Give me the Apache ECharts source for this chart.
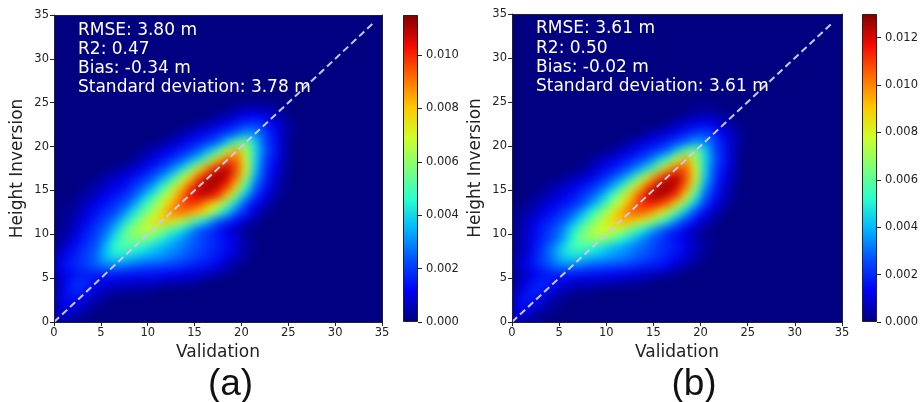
<!DOCTYPE html>
<html><head><meta charset="utf-8">
<script src="https://cdn.jsdelivr.net/npm/echarts@6/dist/echarts.min.js"></script>
<style>
html,body{margin:0;padding:0;background:#fff}
#wrap{position:relative;width:921px;height:402px;overflow:hidden}
.clip{position:absolute;overflow:hidden;background:#000080}
.heat{position:absolute;left:-16px;top:-16px;filter:blur(4px)}
#c{position:absolute;left:0;top:0;width:921px;height:402px}
</style>
</head><body>
<div id="wrap">
  <div class="clip" style="left:54px;top:15px;width:328px;height:307px"><div class="heat" id="hA" style="width:360px;height:339px"></div></div>
  <div class="clip" style="left:512px;top:14px;width:330px;height:308px"><div class="heat" id="hB" style="width:362px;height:340px"></div></div>
  <div id="c"></div>
</div>
<script>
// ---- data (density values in units of 1e-4; each row: [y cell, first x cell, values...]) ----
const densityRowsA = [
 [0,0,[6,6,3,1]],
 [1,0,[8,10,7,4,2]],
 [2,0,[8,13,12,8,4,2]],
 [3,0,[7,14,17,14,8,5,4,3,3,2,2]],
 [4,0,[6,13,18,17,13,10,9,8,8,7,7,6,5,4,3,2]],
 [5,0,[8,12,15,16,16,16,15,15,14,14,14,13,12,11,10,8,6,4,2]],
 [6,0,[10,15,18,21,25,29,30,28,26,24,23,22,21,19,17,15,14,10,6,3,1]],
 [7,0,[8,13,17,21,26,36,42,41,38,35,33,31,28,26,23,20,17,14,10,6,3]],
 [8,0,[4,10,15,20,24,35,46,51,49,44,39,35,32,28,25,22,19,16,13,8,4,1]],
 [9,0,[2,6,12,17,22,30,43,52,57,58,53,44,38,32,27,23,19,16,12,8,4,1]],
 [10,0,[1,4,9,15,20,26,36,51,61,65,66,59,50,42,33,24,19,15,10,6,2]],
 [11,0,[1,3,7,12,17,22,29,40,52,63,72,78,76,67,57,45,35,24,18,12,7,3]],
 [12,0,[1,2,5,9,14,18,22,30,42,53,63,75,88,91,86,79,68,52,37,24,15,8,3]],
 [13,1,[1,3,7,11,14,19,23,31,44,56,67,82,94,99,95,84,72,55,37,21,12,6,2]],
 [14,2,[2,4,7,11,14,18,23,33,44,59,71,88,102,108,106,100,80,57,35,20,11,5,1]],
 [15,3,[2,4,7,10,13,19,24,32,45,60,76,94,107,112,107,98,77,49,26,15,7,2]],
 [16,4,[2,4,7,10,13,18,23,31,42,60,76,96,108,113,106,90,62,33,18,9,3]],
 [17,6,[2,4,7,11,16,21,28,38,54,74,92,105,110,95,71,38,20,11,4]],
 [18,8,[3,6,10,14,19,24,32,42,59,81,95,93,68,40,22,13,5]],
 [19,9,[3,6,9,12,16,20,26,36,49,68,85,64,41,25,15,6]],
 [20,11,[3,6,9,13,17,21,26,38,52,58,40,23,14,6]],
 [21,13,[4,7,10,13,17,21,26,32,30,22,13,6,2]],
 [22,15,[4,6,9,12,16,20,21,17,11,5,2]],
 [23,17,[3,5,8,11,12,10,7,3]],
 [24,19,[3,4,5,4,3,1]]
];
const densityRowsB = [
 [0,0,[9,7,3,1]],
 [1,0,[12,14,8,4,2]],
 [2,0,[10,17,14,8,4,2]],
 [3,0,[7,15,19,15,9,5,3,2,2]],
 [4,0,[5,11,17,19,15,11,9,8,8,7,6,5,4,3,2]],
 [5,0,[4,8,13,17,18,18,17,16,15,15,14,13,12,10,8,6,4,2]],
 [6,0,[6,12,18,24,30,34,33,31,28,27,26,25,23,20,18,17,14,9,5,2,1]],
 [7,0,[5,10,18,26,35,44,47,45,42,39,36,34,31,28,25,21,18,14,9,5,2]],
 [8,0,[3,8,16,25,34,46,55,57,53,47,42,38,34,30,27,23,20,17,12,7,3,1]],
 [9,0,[3,8,15,21,27,37,53,64,69,70,63,53,45,37,29,24,19,15,10,6,2,1]],
 [10,0,[3,8,14,20,26,34,48,62,71,78,80,74,64,53,42,32,23,17,12,7,2]],
 [11,0,[2,6,11,17,21,27,37,50,63,74,85,93,92,84,74,62,47,33,22,14,8,3]],
 [12,0,[2,4,8,13,17,22,28,38,52,65,77,93,104,106,100,89,75,57,39,23,14,7,2]],
 [13,1,[2,5,8,12,16,20,26,36,48,64,78,96,110,116,112,104,86,62,40,23,12,6,1]],
 [14,2,[2,5,8,11,15,21,27,36,51,68,86,106,121,127,121,111,87,55,29,17,8,2]],
 [15,3,[2,5,8,11,15,20,26,35,47,68,86,108,122,128,120,102,70,37,20,10,3]],
 [16,5,[2,5,8,12,18,24,32,43,61,84,104,119,124,107,80,43,23,12,5]],
 [17,7,[3,7,11,16,21,27,36,47,67,92,107,105,77,45,25,15,6]],
 [18,8,[3,7,10,14,18,23,29,41,55,77,96,72,46,28,17,7]],
 [19,10,[3,7,10,15,19,24,29,43,59,66,45,26,16,7]],
 [20,12,[5,8,11,15,19,24,29,36,34,25,15,7,2]],
 [21,14,[5,7,10,14,18,23,24,19,12,6,2]],
 [22,16,[3,6,9,12,14,11,8,3]],
 [23,18,[3,5,6,5,3,1]],
 [24,19,[2,2,2]]
];
const cellLabels = ['0','1','2','3','4','5','6','7','8','9','10','11','12','13','14','15','16','17','18','19','20','21','22','23','24','25','26','27','28','29','30','31','32','33','34'];
const axisMin = 0, axisMax = 35, axisStep = 5;
const diagonal = [0, 34];
const colorbarMaxA = 115, colorbarTicksA = [0,20,40,60,80,100];
const colorbarMaxB = 130, colorbarTicksB = [0,20,40,60,80,100,120];
const statsA = ['RMSE: 3.80 m','R2: 0.47','Bias: -0.34 m','Standard deviation: 3.78 m'];
const statsB = ['RMSE: 3.61 m','R2: 0.50','Bias: -0.02 m','Standard deviation: 3.61 m'];
const panelLabels = ['(a)','(b)'];
const xTitle = 'Validation', yTitle = 'Height Inversion';
const jet = ['#000080','#0000f4','#004dff','#00b3ff','#29ffce','#7dff7a','#ceff29','#ffc600','#ff6800','#f30900','#800000'];

function toCells(rows){
  const out = [];
  rows.forEach(r => r[2].forEach((v,k) => out.push([r[1]+k, r[0], v])));
  return out;
}
const FONT = 'DejaVu Sans';
const INK = '#222';
const PAD = 16;
const gA = {left:54, top:15, width:328, height:307};
const gB = {left:512, top:14, width:330, height:308};
const cA = {left:403, top:15, width:15, height:307};
const cB = {left:862, top:14, width:16, height:308};

// ---- density layers (heatmap cells on category axes, one cell per unit) ----
function makeHeat(id, rows, max, g){
  const ch = echarts.init(document.getElementById(id), null, {renderer:'canvas'});
  ch.setOption({
    animation:false, backgroundColor:'#000080',
    grid:{left:PAD, top:PAD, width:g.width, height:g.height},
    xAxis:{type:'category', data:cellLabels, show:false},
    yAxis:{type:'category', data:cellLabels, show:false},
    visualMap:{type:'continuous', min:0, max:max, show:false, inRange:{color:jet}},
    series:[{type:'heatmap', data:toCells(rows), progressive:0, silent:true, emphasis:{disabled:true}}]
  });
}
makeHeat('hA', densityRowsA, colorbarMaxA, gA);
makeHeat('hB', densityRowsB, colorbarMaxB, gB);

// ---- axes, reference lines, colour bars, texts ----
function valueX(gi, pos){
  const base = {type:'value', gridIndex:gi, min:axisMin, max:axisMax, interval:axisStep, position:pos, z:10,
    splitLine:{show:false}, axisLine:{show:true, onZero:false, lineStyle:{color:INK, width:1}}};
  if(pos==='bottom'){
    Object.assign(base,{axisTick:{show:true, length:4, lineStyle:{color:INK}},
      axisLabel:{show:true, color:INK, fontSize:11.5, margin:5, fontFamily:FONT},
      name:xTitle, nameLocation:'middle', nameGap:22, nameTextStyle:{fontSize:17, color:INK, fontFamily:FONT}});
  } else {
    Object.assign(base,{axisTick:{show:false}, axisLabel:{show:false}});
  }
  return base;
}
function valueY(gi, pos){
  const base = {type:'value', gridIndex:gi, min:axisMin, max:axisMax, interval:axisStep, position:pos, z:10,
    splitLine:{show:false}, axisLine:{show:true, onZero:false, lineStyle:{color:INK, width:1}}};
  if(pos==='left'){
    Object.assign(base,{axisTick:{show:true, length:4, lineStyle:{color:INK}},
      axisLabel:{show:true, color:INK, fontSize:11.5, margin:5, fontFamily:FONT},
      name:yTitle, nameLocation:'middle', nameGap:28, nameRotate:90, nameTextStyle:{fontSize:17, color:INK, fontFamily:FONT}});
  } else {
    Object.assign(base,{axisTick:{show:false}, axisLabel:{show:false}});
  }
  return base;
}
function cbarY(gi, max, ticks){
  return {type:'value', gridIndex:gi, min:0, max:max, position:'right', splitLine:{show:false},
    axisLine:{show:false},
    axisTick:{show:true, length:4, inside:false, customValues:ticks, lineStyle:{color:INK}},
    axisLabel:{show:true, customValues:ticks, margin:8, color:INK, fontSize:11.5, fontFamily:FONT,
      formatter:v => (v/10000).toFixed(3)}};
}
const jetGradient = {type:'linear', x:0, y:1, x2:0, y2:0,
  colorStops: jet.map((c,k)=>({offset:k/(jet.length-1), color:c}))};

function statTexts(lines, x, y0, dy){
  return lines.map((t,k)=>({type:'text', z:100, left:x, top:y0 + k*dy,
    style:{text:t, fill:'#ffffff', font:'17px "DejaVu Sans"'}}));
}
const diagLine = (xi, yi) => ({type:'line', xAxisIndex:xi, yAxisIndex:yi,
  data:[[diagonal[0],diagonal[0]],[diagonal[1],diagonal[1]]], symbol:'none', z:5, silent:true,
  lineStyle:{color:'#c8c8f5', width:2, type:[7,4]}});

const option = {
  animation:false,
  backgroundColor:'transparent',
  textStyle:{fontFamily:FONT},
  grid:[ Object.assign({}, gA), Object.assign({}, gB), Object.assign({}, cA), Object.assign({}, cB) ],
  xAxis:[
    valueX(0,'bottom'), valueX(0,'top'),
    valueX(1,'bottom'), valueX(1,'top'),
    {type:'category', gridIndex:2, data:[''], show:false},
    {type:'category', gridIndex:3, data:[''], show:false}
  ],
  yAxis:[
    valueY(0,'left'), valueY(0,'right'),
    valueY(1,'left'), valueY(1,'right'),
    cbarY(2, colorbarMaxA, colorbarTicksA),
    cbarY(3, colorbarMaxB, colorbarTicksB)
  ],
  series:[
    diagLine(0,0),
    diagLine(2,2),
    {type:'bar', xAxisIndex:4, yAxisIndex:4, data:[colorbarMaxA], barWidth:'100%', silent:true,
      itemStyle:{color:jetGradient, borderColor:INK, borderWidth:1}},
    {type:'bar', xAxisIndex:5, yAxisIndex:5, data:[colorbarMaxB], barWidth:'100%', silent:true,
      itemStyle:{color:jetGradient, borderColor:INK, borderWidth:1}}
  ],
  graphic:[
    ...statTexts(statsA, 78, 22, 19.1),
    ...statTexts(statsB, 536, 20.5, 19.1),
    {type:'text', z:100, x:230.5, y:366, style:{text:panelLabels[0], fill:'#111', font:'37px "Liberation Sans"', align:'center', verticalAlign:'top'}},
    {type:'text', z:100, x:694, y:366, style:{text:panelLabels[1], fill:'#111', font:'37px "Liberation Sans"', align:'center', verticalAlign:'top'}}
  ]
};
const chart = echarts.init(document.getElementById('c'), null, {renderer:'canvas'});
chart.setOption(option);
</script></body></html>
